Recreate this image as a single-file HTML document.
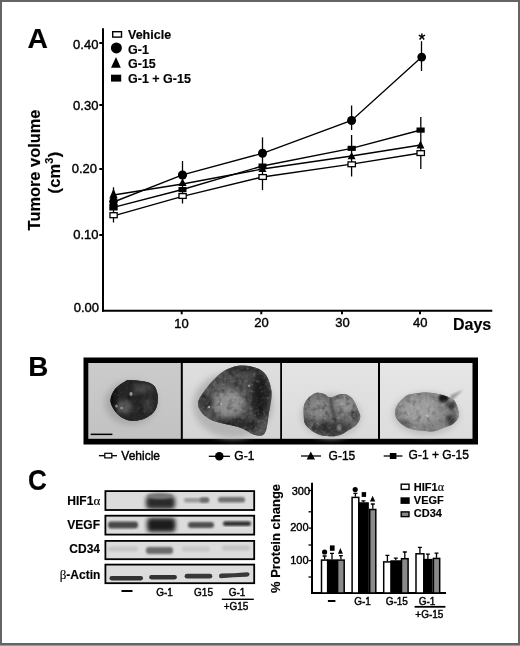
<!DOCTYPE html>
<html><head><meta charset="utf-8">
<style>
html,body{margin:0;padding:0;background:#fff;}
body{width:520px;height:646px;overflow:hidden;position:relative;}
svg{position:absolute;left:0;top:0;filter:grayscale(1);}
text{font-family:"Liberation Sans",sans-serif;fill:#000;}
.b{font-weight:bold;}
text{stroke:#000;stroke-width:0.4px;}
.b text,text.b{stroke-width:0.15px;}
</style></head><body>
<svg width="520" height="646" viewBox="0 0 520 646">
<defs>
<linearGradient id="g1" x1="0" y1="0" x2="0" y2="1"><stop offset="0" stop-color="#cbcbcb"/><stop offset="1" stop-color="#c2c2c2"/></linearGradient>
<linearGradient id="g2" x1="0" y1="0" x2="0" y2="1"><stop offset="0" stop-color="#dedede"/><stop offset="1" stop-color="#d4d4d4"/></linearGradient>
<linearGradient id="g3" x1="0" y1="0" x2="0" y2="1"><stop offset="0" stop-color="#e4e4e4"/><stop offset="1" stop-color="#dadada"/></linearGradient>
<linearGradient id="g4" x1="0" y1="0" x2="0" y2="1"><stop offset="0" stop-color="#e6e6e6"/><stop offset="1" stop-color="#dcdcdc"/></linearGradient>
<filter id="bl1" x="-20%" y="-20%" width="140%" height="140%"><feGaussianBlur stdDeviation="1"/></filter>
<filter id="bl2" x="-30%" y="-30%" width="160%" height="160%"><feGaussianBlur stdDeviation="2"/></filter>
<filter id="bl3" x="-50%" y="-50%" width="200%" height="200%"><feGaussianBlur stdDeviation="3"/></filter>
<filter id="bl05"><feGaussianBlur stdDeviation="0.6"/></filter>
<filter id="nzd" x="0" y="0" width="100%" height="100%"><feTurbulence type="fractalNoise" baseFrequency="0.18" numOctaves="2" seed="4"/><feColorMatrix type="matrix" values="0 0 0 0 0  0 0 0 0 0  0 0 0 0 0  2.2 0 0 0 -1.05"/><feGaussianBlur stdDeviation="0.5"/></filter>
<filter id="nzl" x="0" y="0" width="100%" height="100%"><feTurbulence type="fractalNoise" baseFrequency="0.3" numOctaves="2" seed="9"/><feColorMatrix type="matrix" values="0 0 0 0 1  0 0 0 0 1  0 0 0 0 1  0 2.2 0 0 -1.2"/><feGaussianBlur stdDeviation="0.4"/></filter>
</defs>
<!-- page border -->
<rect x="0" y="0" width="520" height="646" fill="#646464"/>
<rect x="2" y="2" width="516" height="641" fill="#fff"/>
<rect x="0" y="645" width="520" height="1" fill="#9a9a9a"/>

<!-- ===== PANEL A ===== -->
<text class="b" x="27.6" y="47.5" font-size="28.3">A</text>
<g id="axesA" stroke="#000" fill="none">
  <line x1="103" y1="28.3" x2="103" y2="311.7" stroke-width="2"/>
  <line x1="102" y1="310.7" x2="492.3" y2="310.7" stroke-width="2"/>
  <g stroke-width="2">
    <line x1="99.3" y1="43" x2="103" y2="43"/>
    <line x1="99.3" y1="105" x2="103" y2="105"/>
    <line x1="99.3" y1="169" x2="103" y2="169"/>
    <line x1="99.3" y1="235" x2="103" y2="235"/>
    <line x1="181.7" y1="310" x2="181.7" y2="314.3"/>
    <line x1="261.3" y1="310" x2="261.3" y2="314.3"/>
    <line x1="342" y1="310" x2="342" y2="314.3"/>
    <line x1="420" y1="310" x2="420" y2="314.3"/>
  </g>
</g>
<g font-size="13" text-anchor="end">
  <text x="98.4" y="48.7">0.40</text>
  <text x="98.4" y="109.7">0.30</text>
  <text x="97" y="172.8">0.20</text>
  <text x="98.6" y="239.2">0.10</text>
  <text x="99" y="312">0.00</text>
</g>
<g font-size="13" text-anchor="middle">
  <text x="181.5" y="327.6">10</text>
  <text x="261.4" y="327.3">20</text>
  <text x="342.6" y="327.3">30</text>
  <text x="420.3" y="327.3">40</text>
</g>
<text class="b" x="453" y="329.9" font-size="16">Days</text>
<text class="b" font-size="16.4" text-anchor="middle" transform="translate(39.5 170) rotate(-90)">Tumore volume</text>
<text class="b" font-size="16.4" text-anchor="middle" letter-spacing="0.2" transform="translate(59.5 172.5) rotate(-90)">(cm<tspan font-size="11" dy="-6.5">3</tspan><tspan dy="6.5">)</tspan></text>

<!-- legend A -->
<rect x="112.7" y="31.7" width="8.8" height="5.4" fill="#fff" stroke="#000" stroke-width="1.4"/>
<circle cx="116.4" cy="47.9" r="5.5"/>
<polygon points="111,67.7 120.8,67.7 116,57"/>
<rect x="111" y="74.7" width="10.2" height="6.9"/>
<g class="b" font-size="12.5">
  <text x="128" y="38.5">Vehicle</text>
  <text x="128" y="53.5">G-1</text>
  <text x="128" y="67.8">G-15</text>
  <text x="128" y="82.7">G-1 + G-15</text>
</g>

<!-- error bars -->
<g stroke="#000" stroke-width="1.3">
  <line x1="113.5" y1="187.3" x2="113.5" y2="222.5"/>
  <line x1="182.5" y1="161" x2="182.5" y2="203.5"/>
  <line x1="262.5" y1="137.4" x2="262.5" y2="190.1"/>
  <line x1="351.6" y1="105.5" x2="351.6" y2="130"/>
  <line x1="351.6" y1="135" x2="351.6" y2="176.5"/>
  <line x1="421.5" y1="41.2" x2="421.5" y2="71"/>
  <line x1="420.8" y1="117" x2="420.8" y2="169"/>
</g>
<!-- data lines -->
<g stroke="#000" stroke-width="1.35" fill="none">
  <polyline points="113.5,215.8 182.5,196.3 262.5,177 351.6,164.2 420.8,153"/>
  <polyline points="113.5,202 182.5,174.8 262.5,153.3 351.6,120.5 421.7,57.1"/>
  <polyline points="113.5,195 182.5,184 262.5,169 351.6,156 420.8,145"/>
  <polyline points="113.5,207.3 182.5,189.5 262.5,166 351.6,148.3 420.8,130"/>
</g>
<!-- markers -->
<g id="markers">
  <!-- G-1+G-15 filled squares -->
  <rect x="109.3" y="204" width="8.4" height="6.5"/>
  <rect x="178.5" y="187" width="8" height="5.2"/>
  <rect x="258.5" y="163.5" width="8" height="5.2"/>
  <rect x="347.6" y="145.8" width="8.2" height="5.1"/>
  <rect x="416.5" y="127.5" width="8.2" height="5.2"/>
  <!-- G-15 triangles -->
  <polygon points="109.3,198.5 117.7,198.5 113.5,188.5"/>
  <polygon points="178.3,186 186.7,186 182.5,178.5"/>
  <polygon points="258.5,172 266.5,172 262.5,165"/>
  <polygon points="347.6,159.2 355.6,159.2 351.6,152"/>
  <polygon points="416.6,148.6 424.4,148.6 420.5,140.6"/>
  <!-- G-1 circles -->
  <circle cx="113.5" cy="201.5" r="4.3"/>
  <circle cx="182.5" cy="175" r="4.6"/>
  <circle cx="262.5" cy="153.3" r="4.5"/>
  <circle cx="351.6" cy="120.5" r="4.5"/>
  <circle cx="421.7" cy="57.1" r="4.4"/>
  <!-- Vehicle open squares -->
  <g fill="#fff" stroke="#000" stroke-width="1.3">
    <rect x="110" y="212.7" width="7.2" height="5"/>
    <rect x="179" y="193.6" width="7.2" height="4.8"/>
    <rect x="259" y="174.6" width="7.4" height="4.8"/>
    <rect x="348" y="161.9" width="7.4" height="4.8"/>
    <rect x="417" y="150.7" width="7.4" height="4.8"/>
  </g>
</g>
<!-- asterisk -->
<g stroke="#000" stroke-width="1.5" stroke-linecap="butt">
  <line x1="421.9" y1="33.6" x2="421.9" y2="37"/>
  <line x1="418.8" y1="35.2" x2="421.9" y2="36.8"/>
  <line x1="425" y1="35.2" x2="421.9" y2="36.8"/>
  <line x1="419.6" y1="39.6" x2="421.9" y2="36.8"/>
  <line x1="424.2" y1="39.6" x2="421.9" y2="36.8"/>
</g>

<!-- ===== PANEL B ===== -->
<text class="b" x="28.3" y="376.2" font-size="27.8">B</text>
<rect x="83.5" y="357.5" width="394.5" height="87" fill="#000"/>
<g id="photos">
  <rect x="88.3" y="363" width="92.5" height="75.8" fill="url(#g1)"/>
  <rect x="182.8" y="363" width="97.4" height="75.8" fill="url(#g2)"/>
  <rect x="282" y="363" width="96" height="75.8" fill="url(#g3)"/>
  <rect x="380" y="363" width="92.5" height="75.8" fill="url(#g4)"/>
  <clipPath id="c1"><path d="M131.4 380.1C135.9 380.4 146.9 381.3 151.3 383.7C155.7 386.1 156.8 390.3 157.6 394.5C158.3 398.7 157.8 405.1 155.8 409.0C153.9 412.9 150.0 416.0 145.9 418.0C141.8 420.0 135.9 421.2 131.4 420.8C126.9 420.4 122.2 418.5 118.7 415.3C115.2 412.1 111.2 406.2 110.6 401.8C110.0 397.4 112.8 392.4 115.1 389.1C117.4 385.8 121.5 383.4 124.2 381.9C126.9 380.4 126.9 379.8 131.4 380.1Z"/></clipPath>
  <clipPath id="c2"><path d="M241.0 365.5C248.1 365.2 257.7 367.4 262.8 371.6C267.9 375.8 270.4 383.4 271.4 390.8C272.3 398.2 269.6 408.7 268.5 415.8C267.4 422.9 266.9 430.0 264.7 433.2C262.4 436.4 259.2 436.0 255.0 435.0C250.8 434.0 247.1 429.9 239.7 427.4C232.3 424.8 217.7 423.2 210.8 419.7C203.9 416.2 199.6 410.7 198.3 406.2C197.0 401.7 199.5 398.2 203.2 392.8C206.9 387.4 214.2 378.1 220.5 373.5C226.8 368.9 233.9 365.8 241.0 365.5Z"/></clipPath>
  <clipPath id="c3"><path d="M315.8 393.1C318.3 392.4 321.0 393.0 323.4 393.7C325.8 394.4 327.6 397.4 330.4 397.5C333.1 397.6 337.0 394.7 339.9 394.3C342.8 393.9 345.2 393.9 347.5 395.0C349.8 396.1 352.0 398.1 353.8 400.7C355.6 403.3 357.2 408.1 358.3 410.8C359.4 413.6 360.5 414.9 360.2 417.2C359.9 419.5 358.3 422.7 356.4 424.8C354.5 426.9 351.6 428.2 348.8 429.9C346.1 431.6 343.1 433.9 339.9 435.0C336.7 436.1 333.5 436.4 329.7 436.2C325.9 436.0 321.0 435.6 317.0 433.7C313.0 431.8 307.8 428.2 305.6 424.8C303.4 421.4 303.9 416.8 303.7 413.4C303.5 410.0 303.6 407.0 304.3 404.5C305.1 402.0 306.3 400.1 308.2 398.2C310.1 396.3 313.3 393.9 315.8 393.1Z"/></clipPath>
  <clipPath id="c4"><path d="M404.6 397.0C407.0 395.2 408.2 394.7 411.9 394.0C415.5 393.3 422.1 392.6 426.5 392.6C430.9 392.6 434.8 393.4 438.2 394.0C441.6 394.6 444.3 395.4 447.0 396.5C449.7 397.6 452.5 398.5 454.3 400.6C456.1 402.8 457.3 406.7 458.0 409.4C458.7 412.1 459.6 414.3 458.7 416.7C457.8 419.1 455.1 422.3 452.9 424.0C450.7 425.7 448.8 425.8 445.6 427.0C442.4 428.2 438.3 430.7 433.9 431.3C429.5 431.9 423.8 431.3 419.2 430.6C414.6 429.9 409.6 428.8 406.0 427.0C402.4 425.2 399.1 422.1 397.3 419.6C395.5 417.2 395.1 414.7 395.1 412.3C395.1 409.9 395.7 407.6 397.3 405.0C398.9 402.4 402.2 398.8 404.6 397.0Z"/></clipPath>
  <!-- shadows -->
  <ellipse cx="131" cy="403" rx="26" ry="22" fill="#a8a8a8" filter="url(#bl3)"/>
  <ellipse cx="233" cy="405" rx="40" ry="33" fill="#b4b4b4" filter="url(#bl3)"/>
  <ellipse cx="331" cy="416" rx="30" ry="22" fill="#bcbcbc" filter="url(#bl3)"/>
  <ellipse cx="426" cy="414" rx="33" ry="21" fill="#bcbcbc" filter="url(#bl3)"/>
  <!-- tumor 1 -->
  <path d="M131.4 380.1C135.9 380.4 146.9 381.3 151.3 383.7C155.7 386.1 156.8 390.3 157.6 394.5C158.3 398.7 157.8 405.1 155.8 409.0C153.9 412.9 150.0 416.0 145.9 418.0C141.8 420.0 135.9 421.2 131.4 420.8C126.9 420.4 122.2 418.5 118.7 415.3C115.2 412.1 111.2 406.2 110.6 401.8C110.0 397.4 112.8 392.4 115.1 389.1C117.4 385.8 121.5 383.4 124.2 381.9C126.9 380.4 126.9 379.8 131.4 380.1Z" fill="#262626" filter="url(#bl05)"/>
  <g clip-path="url(#c1)">
    <rect x="108" y="378" width="52" height="45" fill="#262626"/>
    <ellipse cx="124" cy="407" rx="8" ry="7" fill="#585858" filter="url(#bl2)"/>
    <ellipse cx="143" cy="389" rx="10" ry="5" fill="#464646" filter="url(#bl2)"/>
    <ellipse cx="148" cy="405" rx="5" ry="8" fill="#3a3a3a" filter="url(#bl2)"/>
    <ellipse cx="112" cy="398" rx="4" ry="16" fill="#0e0e0e" filter="url(#bl2)"/>
    <ellipse cx="131" cy="394" rx="1.6" ry="2" fill="#a5a5a5" filter="url(#bl05)"/>
    <ellipse cx="116.5" cy="406" rx="1.3" ry="1.5" fill="#8a8a8a" filter="url(#bl05)"/>
    <ellipse cx="121.5" cy="408" rx="1.5" ry="1.2" fill="#8a8a8a" filter="url(#bl05)"/>
    <rect x="108" y="378" width="52" height="45" filter="url(#nzd)" opacity="0.3"/>
    <rect x="108" y="378" width="52" height="45" filter="url(#nzl)" opacity="0.12"/>
  </g>
  <!-- tumor 2 -->
  <path d="M241.0 365.5C248.1 365.2 257.7 367.4 262.8 371.6C267.9 375.8 270.4 383.4 271.4 390.8C272.3 398.2 269.6 408.7 268.5 415.8C267.4 422.9 266.9 430.0 264.7 433.2C262.4 436.4 259.2 436.0 255.0 435.0C250.8 434.0 247.1 429.9 239.7 427.4C232.3 424.8 217.7 423.2 210.8 419.7C203.9 416.2 199.6 410.7 198.3 406.2C197.0 401.7 199.5 398.2 203.2 392.8C206.9 387.4 214.2 378.1 220.5 373.5C226.8 368.9 233.9 365.8 241.0 365.5Z" fill="#6a6a6a" filter="url(#bl05)"/>
  <g clip-path="url(#c2)">
    <rect x="196" y="364" width="78" height="74" fill="#565656"/>
    <ellipse cx="228" cy="403" rx="16" ry="15" fill="#8e8e8e" filter="url(#bl3)"/>
    <ellipse cx="238" cy="380" rx="16" ry="8" fill="#4e4e4e" filter="url(#bl3)"/>
    <ellipse cx="244" cy="369" rx="20" ry="4" fill="#333" filter="url(#bl2)"/>
    <ellipse cx="260" cy="396" rx="9" ry="24" fill="#1f1f1f" filter="url(#bl3)"/>
    <ellipse cx="236" cy="425" rx="24" ry="6" fill="#282828" filter="url(#bl3)"/>
    <ellipse cx="206" cy="402" rx="7" ry="9" fill="#3a3a3a" filter="url(#bl2)"/>
    <circle cx="209" cy="407" r="1.2" fill="#bbb" filter="url(#bl05)"/>
    <circle cx="221" cy="404" r="1.2" fill="#bbb" filter="url(#bl05)"/>
    <circle cx="249" cy="386" r="1" fill="#aaa" filter="url(#bl05)"/>
    <rect x="196" y="364" width="78" height="74" filter="url(#nzd)" opacity="0.45"/>
    <rect x="196" y="364" width="78" height="74" filter="url(#nzl)" opacity="0.25"/>
  </g>
  <!-- tumor 3 -->
  <path d="M315.8 393.1C318.3 392.4 321.0 393.0 323.4 393.7C325.8 394.4 327.6 397.4 330.4 397.5C333.1 397.6 337.0 394.7 339.9 394.3C342.8 393.9 345.2 393.9 347.5 395.0C349.8 396.1 352.0 398.1 353.8 400.7C355.6 403.3 357.2 408.1 358.3 410.8C359.4 413.6 360.5 414.9 360.2 417.2C359.9 419.5 358.3 422.7 356.4 424.8C354.5 426.9 351.6 428.2 348.8 429.9C346.1 431.6 343.1 433.9 339.9 435.0C336.7 436.1 333.5 436.4 329.7 436.2C325.9 436.0 321.0 435.6 317.0 433.7C313.0 431.8 307.8 428.2 305.6 424.8C303.4 421.4 303.9 416.8 303.7 413.4C303.5 410.0 303.6 407.0 304.3 404.5C305.1 402.0 306.3 400.1 308.2 398.2C310.1 396.3 313.3 393.9 315.8 393.1Z" fill="#787878" filter="url(#bl05)"/>
  <g clip-path="url(#c3)">
    <rect x="302" y="391" width="60" height="46" fill="#6c6c6c"/>
    <ellipse cx="318" cy="408" rx="11" ry="11" fill="#888" filter="url(#bl3)"/>
    <ellipse cx="345" cy="405" rx="10" ry="9" fill="#939393" filter="url(#bl3)"/>
    <ellipse cx="331" cy="429" rx="21" ry="7" fill="#363636" filter="url(#bl3)"/>
    <path d="M330.4 397Q331 410 336 421" stroke="#4a4a4a" stroke-width="2.5" fill="none" filter="url(#bl1)"/>
    <ellipse cx="306" cy="423" rx="4" ry="6" fill="#444" filter="url(#bl2)"/>
    <ellipse cx="356" cy="416" rx="3" ry="6" fill="#444" filter="url(#bl2)"/>
    <ellipse cx="339.5" cy="428" rx="2.2" ry="3" fill="#999" filter="url(#bl1)"/>
    <rect x="302" y="391" width="60" height="46" filter="url(#nzd)" opacity="0.45"/>
    <rect x="302" y="391" width="60" height="46" filter="url(#nzl)" opacity="0.25"/>
  </g>
  <!-- tumor 4 -->
  <path d="M404.6 397.0C407.0 395.2 408.2 394.7 411.9 394.0C415.5 393.3 422.1 392.6 426.5 392.6C430.9 392.6 434.8 393.4 438.2 394.0C441.6 394.6 444.3 395.4 447.0 396.5C449.7 397.6 452.5 398.5 454.3 400.6C456.1 402.8 457.3 406.7 458.0 409.4C458.7 412.1 459.6 414.3 458.7 416.7C457.8 419.1 455.1 422.3 452.9 424.0C450.7 425.7 448.8 425.8 445.6 427.0C442.4 428.2 438.3 430.7 433.9 431.3C429.5 431.9 423.8 431.3 419.2 430.6C414.6 429.9 409.6 428.8 406.0 427.0C402.4 425.2 399.1 422.1 397.3 419.6C395.5 417.2 395.1 414.7 395.1 412.3C395.1 409.9 395.7 407.6 397.3 405.0C398.9 402.4 402.2 398.8 404.6 397.0Z" fill="#838383" filter="url(#bl05)"/>
  <g clip-path="url(#c4)">
    <rect x="393" y="390" width="67" height="44" fill="#858585"/>
    <ellipse cx="420" cy="410" rx="20" ry="13" fill="#9e9e9e" filter="url(#bl3)"/>
    <ellipse cx="443.5" cy="398" rx="5" ry="4" fill="#151515" filter="url(#bl1)"/>
    <ellipse cx="451" cy="405" rx="4" ry="4" fill="#262626" filter="url(#bl2)"/>
    <ellipse cx="451" cy="420" rx="5" ry="6" fill="#383838" filter="url(#bl2)"/>
    <ellipse cx="403" cy="424" rx="8" ry="4" fill="#5a5a5a" filter="url(#bl2)"/>
    <ellipse cx="427" cy="416" rx="1.6" ry="1.2" fill="#b8b8b8" filter="url(#bl05)"/>
    <rect x="393" y="390" width="67" height="44" filter="url(#nzd)" opacity="0.3"/>
    <rect x="393" y="390" width="67" height="44" filter="url(#nzl)" opacity="0.25"/>
  </g>
  <path d="M449 403L451 395L463 390Z" fill="#999" filter="url(#bl1)"/>
  <!-- scale bar -->
  <rect x="90.7" y="433.6" width="21.7" height="1.5" fill="#000"/>
</g>
<!-- B legend -->
<g stroke="#000" stroke-width="1.3">
  <line x1="98.9" y1="455.7" x2="117" y2="455.7"/>
  <line x1="208.8" y1="456.3" x2="230" y2="456.3"/>
  <line x1="301" y1="456" x2="321" y2="456"/>
  <line x1="383.7" y1="456" x2="402.5" y2="456"/>
</g>
<rect x="104.8" y="453.3" width="7" height="4.6" fill="#fff" stroke="#000" stroke-width="1.2"/>
<circle cx="219.3" cy="456.3" r="4.3"/>
<polygon points="306.6,459.6 315,459.6 310.8,451.6"/>
<rect x="389.8" y="453" width="6.6" height="6"/>
<g font-size="12">
  <text x="121.3" y="459.6">Vehicle</text>
  <text x="234.3" y="460">G-1</text>
  <text x="328.6" y="460">G-15</text>
  <text x="408.6" y="459">G-1 + G-15</text>
</g>

<!-- ===== PANEL C ===== -->
<text class="b" font-size="29.3" transform="translate(28 490) scale(0.89 1)">C</text>
<g fill="#dcdcdc" stroke="#000" stroke-width="1.8">
  <rect x="105.4" y="491.1" width="148.8" height="18.9"/>
  <rect x="105.4" y="515.7" width="148.8" height="18.9"/>
  <rect x="105.4" y="540.9" width="148.8" height="18.3"/>
  <rect x="105.4" y="564.6" width="148.8" height="18.6"/>
</g>
<g id="bands">
  <clipPath id="cb1"><rect x="106.3" y="492" width="147" height="17.1"/></clipPath>
  <clipPath id="cb2"><rect x="106.3" y="516.6" width="147" height="17.1"/></clipPath>
  <clipPath id="cb3"><rect x="106.3" y="541.8" width="147" height="16.5"/></clipPath>
  <clipPath id="cb4"><rect x="106.3" y="565.5" width="147" height="16.8"/></clipPath>
  <g clip-path="url(#cb1)">
    <rect x="146" y="496" width="29" height="13" rx="4" fill="#2c2c2c" filter="url(#bl2)"/>
    <ellipse cx="160" cy="496" rx="13" ry="3" fill="#777" filter="url(#bl1)"/>
    <rect x="184" y="498" width="25" height="4.5" rx="2" fill="#9a9a9a" filter="url(#bl1)"/>
    <rect x="200" y="497.5" width="9" height="5" rx="2" fill="#6a6a6a" filter="url(#bl1)"/>
    <rect x="218" y="497" width="27" height="5.5" rx="2.5" fill="#707070" filter="url(#bl1)"/>
  </g>
  <g clip-path="url(#cb2)">
    <rect x="108" y="521.5" width="30" height="7" rx="3" fill="#4a4a4a" filter="url(#bl1)"/>
    <rect x="147" y="518" width="28.5" height="14" rx="4" fill="#1e1e1e" filter="url(#bl2)"/>
    <rect x="188" y="522" width="26" height="6" rx="3" fill="#505050" filter="url(#bl1)"/>
    <rect x="223" y="521.3" width="28" height="4.6" rx="2.2" fill="#303030" filter="url(#bl1)"/>
  </g>
  <g clip-path="url(#cb3)">
    <rect x="108" y="546.5" width="30" height="5" rx="2.5" fill="#c6c6c6" filter="url(#bl1)"/>
    <rect x="146" y="547" width="27" height="7" rx="3" fill="#6a6a6a" filter="url(#bl1)"/>
    <rect x="182" y="546.5" width="28" height="5" rx="2.5" fill="#c8c8c8" filter="url(#bl1)"/>
    <rect x="222" y="545.5" width="28" height="5" rx="2.5" fill="#c4c4c4" filter="url(#bl1)"/>
  </g>
  <g clip-path="url(#cb4)">
    <rect x="109.5" y="576.1" width="33.5" height="4.3" rx="2.1" fill="#333" filter="url(#bl05)"/>
    <rect x="149.2" y="575.1" width="27.7" height="4.3" rx="2.1" fill="#333" filter="url(#bl05)"/>
    <rect x="184.6" y="573.8" width="27.7" height="4.8" rx="2.4" fill="#383838" filter="url(#bl05)"/>
    <path d="M221 573.6Q234 573.4 247 572.2Q250 572.4 249.5 574.6Q249 577 246 576.8Q234 577 221 578.2Q219 578 219 575.9Q219 573.8 221 573.6Z" fill="#383838" filter="url(#bl05)"/>
  </g>
</g>
<g class="b" font-size="12" text-anchor="end">
  <text x="100.2" y="505.2">HIF1<tspan font-family="Liberation Serif" font-weight="normal" font-size="13">α</tspan></text>
  <text x="100" y="528.6">VEGF</text>
  <text x="100" y="553">CD34</text>
  <text x="100.3" y="579"><tspan font-family="Liberation Serif" font-weight="normal" font-size="13">β</tspan>-Actin</text>
</g>
<g font-size="10" text-anchor="middle">
  <text x="164.5" y="596">G-1</text>
  <text x="203.5" y="596">G15</text>
  <text x="237" y="596">G-1</text>
  <text x="236" y="609.8">+G15</text>
</g>
<rect x="121.5" y="590" width="11" height="2"/>
<rect x="221.8" y="598.6" width="32" height="1.4"/>

<!-- bar chart -->
<g stroke="#000" fill="none">
  <line x1="312" y1="482.8" x2="312" y2="594" stroke-width="2"/>
  <line x1="311" y1="593" x2="446" y2="593" stroke-width="2"/>
  <g stroke-width="1.3">
    <line x1="308.5" y1="490.5" x2="312" y2="490.5"/>
    <line x1="308.5" y1="511.8" x2="312" y2="511.8"/>
    <line x1="308.5" y1="528.1" x2="312" y2="528.1"/>
    <line x1="308.5" y1="545" x2="312" y2="545"/>
    <line x1="308.5" y1="560.6" x2="312" y2="560.6"/>
    <line x1="308.5" y1="577" x2="312" y2="577"/>
  </g>
</g>
<g font-size="11" text-anchor="end">
  <text x="310" y="495.4">300</text>
  <text x="308.5" y="531.4">200</text>
  <text x="308.5" y="564.4">100</text>
</g>
<text class="b" font-size="13" text-anchor="middle" transform="translate(280 538.5) rotate(-90)">% Protein change</text>
<!-- bars -->
<g stroke="#000" stroke-width="1.5">
  <rect x="321.5" y="560.1" width="6.2" height="32.9" fill="#fff"/>
  <rect x="327.7" y="560.1" width="8.8" height="32.9" fill="#000"/>
  <rect x="337.6" y="560.1" width="6.6" height="32.9" fill="#8a8a8a"/>
  <rect x="352.1" y="497.4" width="6.7" height="95.6" fill="#fff"/>
  <rect x="358.8" y="503.0" width="9.3" height="90.0" fill="#000"/>
  <rect x="369.7" y="509.5" width="6.1" height="83.5" fill="#8a8a8a"/>
  <rect x="383.7" y="561.9" width="7.5" height="31.1" fill="#fff"/>
  <rect x="391.2" y="561.0" width="9.2" height="32.0" fill="#000"/>
  <rect x="401.5" y="558.7" width="6.6" height="34.3" fill="#8a8a8a"/>
  <rect x="416" y="553.8" width="7.9" height="39.2" fill="#fff"/>
  <rect x="423.9" y="559.6" width="8" height="33.4" fill="#000"/>
  <rect x="433.4" y="558.4" width="6.3" height="34.6" fill="#8a8a8a"/>
</g>
<!-- bar error bars -->
<g stroke="#000" stroke-width="1.3">
  <path d="M324.6 559.4V556M322.6 556H326.6"/>
  <path d="M332 559.4V553.3M330 553.3H334"/>
  <path d="M340.9 559.4V555.7M338.9 555.7H342.9"/>
  <path d="M355.4 496.7V493.4M353.4 493.4H357.4"/>
  <path d="M363.4 502.3V500.8M361.4 500.8H365.4"/>
  <path d="M372.8 508.8V504M370.8 504H374.8"/>
  <path d="M387.4 561.2V555.4M385.4 555.4H389.4"/>
  <path d="M395.8 560.3V558.2M393.8 558.2H397.8"/>
  <path d="M404.8 558V552M402.8 552H406.8"/>
  <path d="M419.9 553.1V547.4M417.9 547.4H421.9"/>
  <path d="M427.9 558.9V554.2M425.9 554.2H429.9"/>
  <path d="M436.5 557.7V553.1M434.5 553.1H438.5"/>
</g>
<!-- bar symbols -->
<circle cx="324.6" cy="552" r="2.6"/>
<rect x="329.9" y="545.4" width="4.7" height="5.4"/>
<polygon points="337.9,553.8 342.9,553.8 340.4,548.1"/>
<circle cx="355.2" cy="489.6" r="2.6"/>
<rect x="361.7" y="492.1" width="4.4" height="4.8"/>
<polygon points="369.9,501.5 375.3,501.5 372.6,495.8"/>
<!-- bar legend -->
<rect x="401.2" y="484.2" width="7.8" height="5.2" fill="#fff" stroke="#000" stroke-width="1.4"/>
<rect x="400.5" y="497.3" width="9.2" height="6.6"/>
<rect x="401.2" y="511.9" width="7.8" height="4.7" fill="#8a8a8a" stroke="#000" stroke-width="1.4"/>
<g class="b" font-size="11">
  <text x="413.8" y="491.2">HIF1<tspan font-family="Liberation Serif" font-weight="normal" font-size="12">α</tspan></text>
  <text x="413.8" y="503.9">VEGF</text>
  <text x="413.8" y="517.3">CD34</text>
</g>
<g font-size="10" text-anchor="middle">
  <text x="362.6" y="604.6">G-1</text>
  <text x="396.8" y="604.6">G-15</text>
  <text x="427" y="604.5">G-1</text>
  <text x="429.4" y="617.6">+G-15</text>
</g>
<rect x="327.9" y="600" width="7.5" height="2"/>
<rect x="414.6" y="605.9" width="30.8" height="1.8"/>
</svg>
</body></html>
